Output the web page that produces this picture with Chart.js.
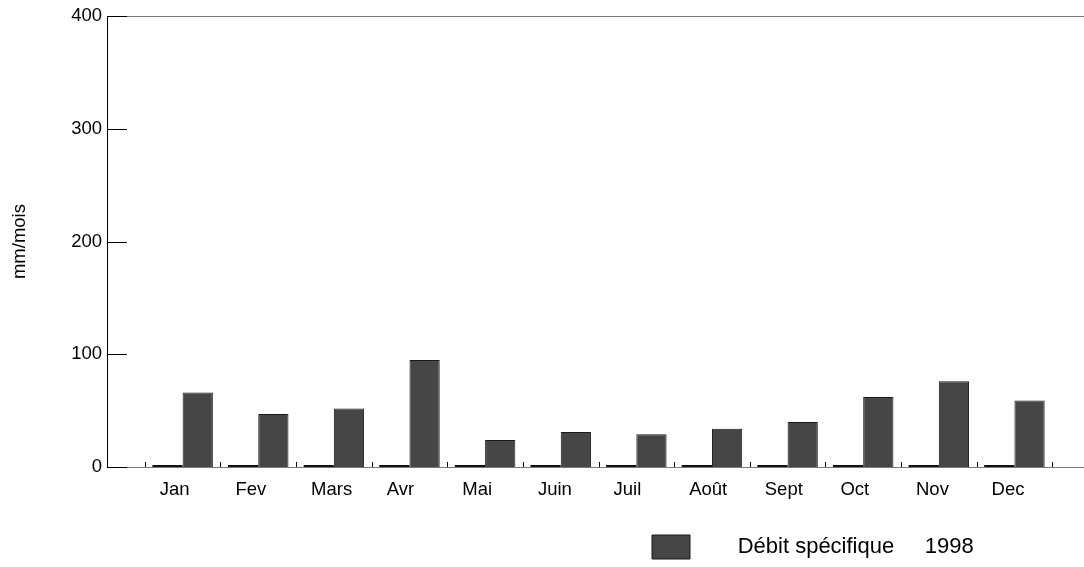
<!DOCTYPE html>
<html><head><meta charset="utf-8">
<script src="https://cdn.jsdelivr.net/npm/chart.js@4/dist/chart.umd.min.js"></script>
<style>html,body{margin:0;padding:0;background:#fff;overflow:hidden;}</style>
</head><body>
<canvas id="c" width="1084" height="567"></canvas>
<script>
// ---- data ----
const months = ['Jan','Fev','Mars','Avr','Mai','Juin','Juil','Août','Sept','Oct','Nov','Dec'];
const debit1998 = [66, 47, 52, 95, 24, 31, 29, 34, 40, 62, 76, 59];
const serieVide = [0, 0, 0, 0, 0, 0, 0, 0, 0, 0, 0, 0];
const yTickValues = [0, 100, 200, 300, 400];
const yTitle = 'mm/mois';
const seriesLabel = 'Débit spécifique     1998';

// month i occupies the slot [i, i+1] on the x axis
const slot = months.map((m, i) => i + 0.5);
const xBoundaries = months.map((m, i) => i).concat([months.length]);

const FONT = "'Liberation Sans', Arial, Helvetica, sans-serif";
Chart.defaults.font.family = FONT;
Chart.defaults.color = '#000';

const innerTicks = {
  id: 'innerTicks',
  afterDatasetsDraw(chart) {
    const {ctx, chartArea: a, scales: {x, y}} = chart;
    ctx.save();
    ctx.strokeStyle = '#000';
    ctx.lineWidth = 1;
    ctx.beginPath();
    y.ticks.forEach(t => {
      const py = Math.round(y.getPixelForValue(t.value)) + 0.5;
      ctx.moveTo(a.left, py); ctx.lineTo(a.left + 20, py);
    });
    x.ticks.forEach(t => {
      const px = Math.round(x.getPixelForValue(t.value)) + 0.5;
      ctx.moveTo(px, a.bottom); ctx.lineTo(px, a.bottom - 5);
    });
    ctx.stroke();
    ctx.restore();
  }
};

const legendPlace = {
  id: 'legendPlace',
  afterLayout(chart) {
    const lg = chart.legend;
    if (!lg) return;
    const h = lg.bottom - lg.top;
    lg.left = 642; lg.right = 1084; lg.width = 1084 - 642;
    lg.top = 525; lg.bottom = 525 + h;
  }
};

new Chart(document.getElementById('c'), {
  type: 'bar',
  data: {
    datasets: [
      {
        label: 'Série sans valeur',
        data: slot.map((x, i) => ({x, y: serieVide[i]})),
        backgroundColor: '#111',
        borderWidth: 0,
        minBarLength: 2,
        clip: false,
        categoryPercentage: 0.8,
        barPercentage: 1
      },
      {
        label: seriesLabel,
        data: slot.map((x, i) => ({x, y: debit1998[i]})),
        backgroundColor: '#464646',
        borderColor: '#1a1a1a',
        borderWidth: 1,
        categoryPercentage: 0.8,
        barPercentage: 1
      }
    ]
  },
  options: {
    responsive: false,
    animation: false,
    devicePixelRatio: 1,
    layout: {padding: {left: 0, right: 0, top: 13, bottom: 0}},
    plugins: {
      tooltip: {enabled: false},
      legend: {
        position: 'bottom',
        align: 'start',
        labels: {
          boxWidth: 38, boxHeight: 24, padding: 10,
          font: {size: 22}, color: '#000',
          generateLabels: (chart) => Chart.defaults.plugins.legend.labels.generateLabels(chart)
            .filter(l => l.datasetIndex === 1)
            .map(l => Object.assign(l, {text: '      ' + l.text}))
        }
      }
    },
    scales: {
      x: {
        type: 'linear', position: 'bottom', min: -0.5, max: 12.42, offset: false,
        afterBuildTicks: s => { s.ticks = xBoundaries.map(v => ({value: v})); },
        ticks: {
          autoSkip: false, maxRotation: 0, minRotation: 0, align: 'start', labelOffset: 15,
          padding: 12, font: {size: 18.5}, color: '#000',
          callback: (v) => months[v] !== undefined ? months[v] : ''
        },
        grid: {display: false, drawTicks: false, offset: false},
        border: {display: true, color: '#7a7a7a', width: 1},
        afterFit: s => { s.height = 56; }
      },
      xTop: {
        type: 'linear', position: 'top', min: 0, max: 1,
        ticks: {display: false},
        grid: {display: false, drawTicks: false},
        border: {display: true, color: '#7a7a7a', width: 1}
      },
      y: {
        min: 0, max: 400,
        afterBuildTicks: s => { s.ticks = yTickValues.map(v => ({value: v})); },
        ticks: {padding: 5, font: {size: 18.5}, color: '#000'},
        grid: {display: false, drawTicks: false},
        border: {display: true, color: '#000', width: 1},
        title: {display: true, text: yTitle, font: {size: 18.5}, color: '#000', padding: {top: 9, bottom: 0}},
        afterFit: s => { s.width = 107; }
      }
    }
  },
  plugins: [innerTicks, legendPlace]
});
</script>
</body></html>
